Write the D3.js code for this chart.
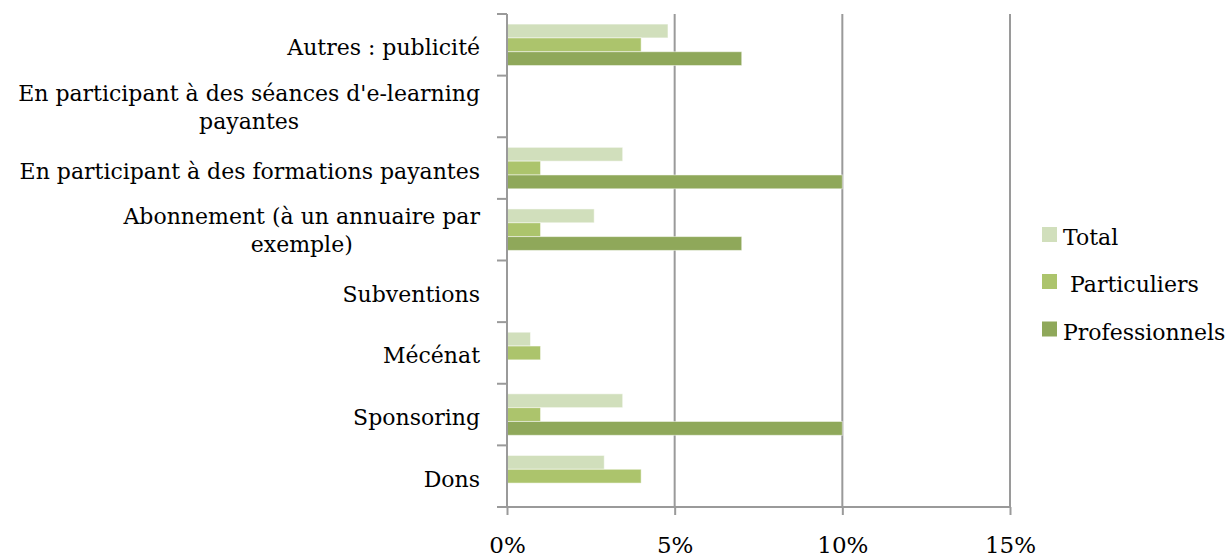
<!DOCTYPE html>
<html><head><meta charset="utf-8">
<script src="https://cdn.jsdelivr.net/npm/d3@7"></script>
<style>body{margin:0;background:#fff;}svg{display:block;}</style>
</head><body>
<svg id="c" width="1232" height="560"></svg>
<script>
const categories = ["Autres : publicité","En participant à des séances d'e-learning payantes","En participant à des formations payantes","Abonnement (à un annuaire par exemple)","Subventions","Mécénat","Sponsoring","Dons"];
const labelLines = [["Autres : publicité"],["En participant à des séances d'e-learning","payantes"],["En participant à des formations payantes"],["Abonnement (à un annuaire par","exemple)"],["Subventions"],["Mécénat"],["Sponsoring"],["Dons"]];
const seriesNames = ["Total"," Particuliers","Professionnels"];
const total = [4.8,0,3.45,2.6,0,0.7,3.45,2.9];
const particuliers = [4.0,0,1.0,1.0,0,1.0,1.0,4.0];
const professionnels = [7.0,0,10.0,7.0,0,0,10.0,0];
const xTicks = [0,5,10,15];
const colors = ["#d1dfbc","#acc46c","#8fa85a"];

const series = [total, particuliers, professionnels];
const svg = d3.select("#c");
const font = "'DejaVu Serif', serif";
const x = d3.scaleLinear().domain([0,15]).range([507,1010]);
const y = d3.scaleBand().domain(categories).range([14,507]).paddingInner(0).paddingOuter(0);
const yi = d3.scaleBand().domain([0,1,2]).range([0,y.bandwidth()]).paddingOuter(0.73).paddingInner(0);

// gridlines
svg.append("g").selectAll("line").data(xTicks.slice(1)).join("line")
  .attr("x1",d=>x(d)).attr("x2",d=>x(d)).attr("y1",14).attr("y2",507)
  .attr("stroke","#9a9a9a").attr("stroke-width",2);

// bars
categories.forEach((c,ci)=>{
  const g = svg.append("g").attr("transform",`translate(0,${y(c)})`);
  series.forEach((s,si)=>{
    if (s[ci] <= 0) return;
    g.append("rect").attr("x",x(0)).attr("y",yi(si)).attr("width",x(s[ci])-x(0)).attr("height",yi.bandwidth())
      .attr("fill",colors[si]).attr("stroke","rgba(255,255,255,0.5)").attr("stroke-width",1);
  });
});

// y axis
svg.append("line").attr("x1",507).attr("x2",507).attr("y1",14).attr("y2",507).attr("stroke","#9a9a9a").attr("stroke-width",2);
const bounds = [...categories.map(c=>y(c)), 507];
svg.append("g").selectAll("line").data(bounds).join("line")
  .attr("x1",497).attr("x2",507).attr("y1",d=>d).attr("y2",d=>d).attr("stroke","#9a9a9a").attr("stroke-width",2);

// x axis
const xAxis = d3.axisBottom(x).tickValues(xTicks).tickFormat(d=>d+"%").tickSize(8).tickPadding(0);
const xg = svg.append("g").attr("transform","translate(0,507)").call(xAxis);
xg.select(".domain").attr("stroke","#9a9a9a").attr("stroke-width",2).attr("d","M497,0H1010");
xg.selectAll(".tick line").attr("stroke","#9a9a9a").attr("stroke-width",2);
xg.selectAll(".tick text").attr("font-family",font).attr("font-size",23).attr("fill","#000").attr("y",46).attr("dy",null);

// category labels
const lineH = 27.5;
categories.forEach((c,ci)=>{
  const lines = labelLines[ci];
  const cy = y(c)+y.bandwidth()/2;
  const off = lines.length > 1 ? 8.5 : 10.5;
  const t = svg.append("text").attr("font-family",font).attr("font-size",22).attr("fill","#000").attr("text-anchor","middle");
  lines.forEach((l,li)=>{
    t.append("tspan").attr("y", cy + (li-(lines.length-1)/2)*lineH + off).text(l);
  });
  const w = d3.max(t.selectAll("tspan").nodes(), n=>n.getComputedTextLength());
  t.selectAll("tspan").attr("x", 480 - w/2);
});

// legend
const legY = [245,292,339.5];
seriesNames.forEach((n,i)=>{
  svg.append("rect").attr("x",1042).attr("y",legY[i]-18).attr("width",15).attr("height",15).attr("fill",colors[i]);
  svg.append("text").attr("x",1063).attr("y",legY[i]).attr("font-family",font).attr("font-size",22).attr("fill","#000").style("white-space","pre").text(n);
});
</script>
</body></html>
